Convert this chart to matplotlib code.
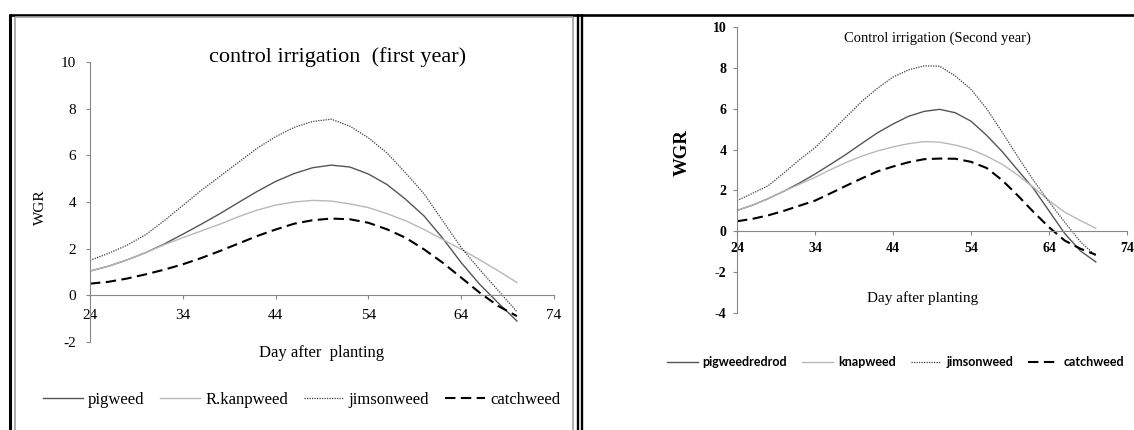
import matplotlib
matplotlib.use("Agg")
import matplotlib.pyplot as plt
from matplotlib.lines import Line2D

plt.rcParams["axes.unicode_minus"] = False

# Days after planting at which WGR was recorded
days = [24, 26, 28, 30, 32, 34, 36, 38, 40, 42, 44, 46,
        48, 50, 52, 54, 56, 58, 60, 62, 64, 66, 68, 70]

# First year, control irrigation
pigweed_y1 = [1.04, 1.25, 1.52, 1.83, 2.20, 2.62, 3.05, 3.50, 3.98, 4.45, 4.88, 5.22,
              5.47, 5.58, 5.50, 5.20, 4.75, 4.12, 3.40, 2.45, 1.40, 0.47, -0.33, -1.10]
knapweed_y1 = [1.04, 1.25, 1.52, 1.83, 2.17, 2.47, 2.76, 3.05, 3.37, 3.65, 3.87, 4.00,
               4.07, 4.04, 3.92, 3.76, 3.50, 3.20, 2.82, 2.40, 1.97, 1.52, 1.05, 0.55]
jimsonweed_y1 = [1.50, 1.80, 2.15, 2.60, 3.20, 3.85, 4.50, 5.10, 5.70, 6.30, 6.80, 7.20,
                 7.45, 7.55, 7.25, 6.75, 6.10, 5.25, 4.35, 3.20, 2.05, 1.10, 0.20, -0.70]
catchweed_y1 = [0.50, 0.58, 0.72, 0.90, 1.10, 1.33, 1.60, 1.90, 2.22, 2.54, 2.82, 3.07,
                3.22, 3.29, 3.26, 3.11, 2.83, 2.47, 1.97, 1.40, 0.76, 0.11, -0.46, -0.89]

# Second year, control irrigation
pigweed_y2 = [1.02, 1.28, 1.60, 1.96, 2.36, 2.80, 3.28, 3.77, 4.30, 4.82, 5.25, 5.63,
              5.87, 5.97, 5.80, 5.39, 4.70, 3.90, 2.99, 2.10, 1.00, -0.10, -0.95, -1.50]
knapweed_y2 = [1.02, 1.28, 1.60, 1.96, 2.30, 2.64, 3.02, 3.37, 3.68, 3.93, 4.13, 4.29,
               4.39, 4.36, 4.22, 4.01, 3.68, 3.28, 2.75, 2.15, 1.50, 0.94, 0.53, 0.15]
jimsonweed_y2 = [1.50, 1.86, 2.23, 2.85, 3.50, 4.09, 4.84, 5.60, 6.36, 7.00, 7.55, 7.90,
                 8.10, 8.08, 7.60, 6.95, 6.00, 4.85, 3.65, 2.50, 1.45, 0.45, -0.50, -1.20]
catchweed_y2 = [0.49, 0.61, 0.78, 1.00, 1.25, 1.50, 1.86, 2.23, 2.59, 2.93, 3.17, 3.38,
                3.53, 3.56, 3.55, 3.40, 3.10, 2.50, 1.75, 0.95, 0.20, -0.45, -0.85, -1.15]

x_ticks = [24, 34, 44, 54, 64, 74]
y_ticks_y1 = [-2, 0, 2, 4, 6, 8, 10]
y_ticks_y2 = [-4, -2, 0, 2, 4, 6, 8, 10]

labels_y1 = ["pigweed", "R.kanpweed", "jimsonweed", "catchweed"]
labels_y2 = ["pigweedredrod", "knapweed", "jimsonweed", "catchweed"]

# line styles shared by both panels: (color, width, dash pattern)
styles = [
    ("#555555", 1.0, "-"),
    ("#b8b8b8", 1.0, "-"),
    ("#3c3c3c", 0.9, (0, (1, 1))),
    ("#000000", 1.5, (0, (5, 2.6))),
]

W, H = 1134, 430
fig = plt.figure(figsize=(W / 100, H / 100), dpi=100)
fig.patch.set_facecolor("white")

SERIF = "Liberation Serif"
AXIS_GREY = "#868686"


def px_rect(x0, x1, ytop, ybot):
    return [x0 / W, 1 - ybot / H, (x1 - x0) / W, (ybot - ytop) / H]


def fx(x):
    return x / W


def fy(y):
    return 1 - y / H


def style_axes(ax, ylim, yticks, weight, size, xpad, ypad):
    ax.set_xlim(24, 74)
    ax.set_ylim(*ylim)
    ax.set_xticks(x_ticks)
    ax.set_yticks(yticks)
    for side in ("top", "right"):
        ax.spines[side].set_visible(False)
    ax.spines["bottom"].set_position(("data", 0))
    for side in ("left", "bottom"):
        ax.spines[side].set_color(AXIS_GREY)
        ax.spines[side].set_linewidth(0.8)
    ax.tick_params(axis="both", direction="out", length=3, width=0.8,
                   color=AXIS_GREY, labelsize=size)
    ax.tick_params(axis="x", pad=xpad)
    ax.tick_params(axis="y", pad=ypad)
    for lab in ax.get_xticklabels() + ax.get_yticklabels():
        lab.set_fontfamily(SERIF)
        lab.set_fontweight(weight)
        lab.set_color("black")
    ax.patch.set_alpha(0)


# ---------------- first year ----------------
ax1 = fig.add_axes(px_rect(90, 554, 62, 342))
for ys, (c, lw, ls), lab in zip([pigweed_y1, knapweed_y1, jimsonweed_y1, catchweed_y1],
                                styles, labels_y1):
    ax1.plot(days, ys, color=c, lw=lw, linestyle=ls, label=lab)
style_axes(ax1, (-2, 10), y_ticks_y1, "normal", 11, 7, 7)

fig.text(fx(338), fy(57), "control irrigation  (first year)", ha="center", va="center",
         fontsize=16, family=SERIF)
fig.text(fx(40), fy(207), "WGR", rotation=90, ha="center", va="center",
         fontsize=11, family=SERIF)
fig.text(fx(322), fy(353), "Day after  planting", ha="center", va="center",
         fontsize=12, family=SERIF)
ax1.legend(ncol=4, loc="center left", bbox_to_anchor=(fx(43), fy(400)),
           bbox_transform=fig.transFigure, frameon=False, borderpad=0,
           borderaxespad=0, handlelength=2.4, handletextpad=0.3,
           columnspacing=0.95, prop={"family": SERIF, "size": 12})

# ---------------- second year ----------------
ax2 = fig.add_axes(px_rect(737, 1127, 27, 313))
for ys, (c, lw, ls), lab in zip([pigweed_y2, knapweed_y2, jimsonweed_y2, catchweed_y2],
                                styles, labels_y2):
    ax2.plot(days, ys, color=c, lw=lw, linestyle=ls, label=lab)
style_axes(ax2, (-4, 10), y_ticks_y2, "bold", 10, 5, 4.5)

fig.text(fx(937), fy(38), "Control irrigation (Second year)", ha="center", va="center",
         fontsize=10.5, family=SERIF)
fig.text(fx(682), fy(153), "WGR", rotation=90, ha="center", va="center",
         fontsize=13.5, family=SERIF, fontweight="bold")
fig.text(fx(923), fy(298), "Day after planting", ha="center", va="center",
         fontsize=11, family=SERIF)
ax2.legend(ncol=4, loc="center left", bbox_to_anchor=(fx(667), fy(362)),
           bbox_transform=fig.transFigure, frameon=False, borderpad=0,
           borderaxespad=0, handlelength=2.45, handletextpad=0.4,
           columnspacing=1.2, prop={"family": "Lato", "weight": "bold", "size": 9})

# ---------------- page frame ----------------
def frame_line(xs, ys, color, lw):
    fig.add_artist(Line2D([fx(v) for v in xs], [fy(v) for v in ys],
                          color=color, lw=lw, solid_capstyle="butt"))


frame_line([8.5, W], [14.5, 14.5], "black", 1.9)       # top rule
frame_line([10, 10], [13.5, H], "black", 2.2)           # outer left rule
frame_line([14.5, 14.5], [16.5, H], "#a0a0a0", 1.2)     # inner left rule
frame_line([14.5, 572.5], [16.5, 16.5], "#a0a0a0", 1.2) # inner top rule
frame_line([572.5, 572.5], [16.5, H], "#a0a0a0", 1.2)   # inner right rule
frame_line([577.8, 577.8], [13.5, H], "black", 1.7)     # divider
frame_line([582, 582], [13.5, H], "black", 1.7)         # divider

fig.savefig("out.png", dpi=100, facecolor="white")
